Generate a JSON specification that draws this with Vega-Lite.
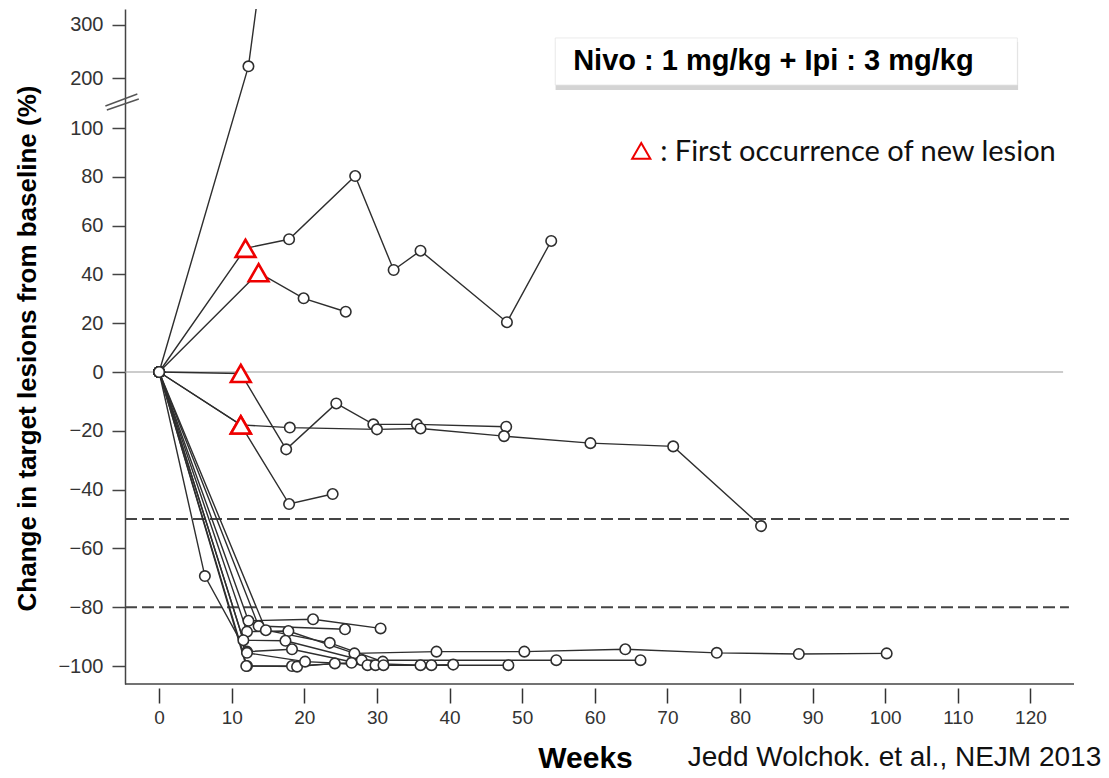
{
  "$schema": "https://vega.github.io/schema/vega-lite/v6.json",
  "width": 949,
  "height": 675,
  "autosize": {"type": "none"},
  "padding": {"left": 125, "top": 9, "right": 35, "bottom": 94},
  "background": "white",
  "config": {"view": {"stroke": null}, "font": "Liberation Sans"},
  "data": {"values": [{"anchor": 1}]},
  "datasets": {
    "series": [
      {"id": "A", "week": 0, "pct": 0, "newLesion": false},
      {"id": "A", "week": 12.3, "pct": 222, "newLesion": false},
      {"id": "A", "week": 13.5, "pct": 345, "newLesion": false},
      {"id": "B", "week": 0, "pct": 0, "newLesion": false},
      {"id": "B", "week": 11.9, "pct": 50.7, "newLesion": true},
      {"id": "B", "week": 17.9, "pct": 54.4, "newLesion": false},
      {"id": "B", "week": 27.0, "pct": 80.3, "newLesion": false},
      {"id": "B", "week": 32.3, "pct": 41.8, "newLesion": false},
      {"id": "B", "week": 36.0, "pct": 49.7, "newLesion": false},
      {"id": "B", "week": 47.9, "pct": 20.4, "newLesion": false},
      {"id": "B", "week": 54.0, "pct": 53.7, "newLesion": false},
      {"id": "C", "week": 0, "pct": 0, "newLesion": false},
      {"id": "C", "week": 13.7, "pct": 40.7, "newLesion": true},
      {"id": "C", "week": 19.9, "pct": 30.2, "newLesion": false},
      {"id": "C", "week": 25.7, "pct": 24.7, "newLesion": false},
      {"id": "D", "week": 0, "pct": 0, "newLesion": false},
      {"id": "D", "week": 11.25, "pct": -0.5, "newLesion": true},
      {"id": "D", "week": 17.5, "pct": -26.3, "newLesion": false},
      {"id": "D", "week": 24.4, "pct": -10.7, "newLesion": false},
      {"id": "D", "week": 29.5, "pct": -17.8, "newLesion": false},
      {"id": "D", "week": 35.5, "pct": -17.8, "newLesion": false},
      {"id": "D", "week": 47.8, "pct": -18.6, "newLesion": false},
      {"id": "E", "week": 0, "pct": 0, "newLesion": false},
      {"id": "E", "week": 11.25, "pct": -18, "newLesion": true},
      {"id": "E", "week": 18.0, "pct": -18.9, "newLesion": false},
      {"id": "E", "week": 30.0, "pct": -19.5, "newLesion": false},
      {"id": "E", "week": 36.0, "pct": -19.2, "newLesion": false},
      {"id": "E", "week": 47.5, "pct": -21.8, "newLesion": false},
      {"id": "E", "week": 59.4, "pct": -24.2, "newLesion": false},
      {"id": "E", "week": 70.8, "pct": -25.3, "newLesion": false},
      {"id": "E", "week": 82.9, "pct": -52.4, "newLesion": false},
      {"id": "F", "week": 0, "pct": 0, "newLesion": false},
      {"id": "F", "week": 11.25, "pct": -18, "newLesion": true},
      {"id": "F", "week": 17.9, "pct": -44.9, "newLesion": false},
      {"id": "F", "week": 23.9, "pct": -41.5, "newLesion": false},
      {"id": "G", "week": 0, "pct": 0, "newLesion": false},
      {"id": "G", "week": 12.3, "pct": -84.6, "newLesion": false},
      {"id": "G", "week": 21.2, "pct": -84.1, "newLesion": false},
      {"id": "G", "week": 30.5, "pct": -87.2, "newLesion": false},
      {"id": "H", "week": 0, "pct": 0, "newLesion": false},
      {"id": "H", "week": 13.7, "pct": -86.4, "newLesion": false},
      {"id": "H", "week": 25.6, "pct": -87.5, "newLesion": false},
      {"id": "I", "week": 0, "pct": 0, "newLesion": false},
      {"id": "I", "week": 14.7, "pct": -87.8, "newLesion": false},
      {"id": "I", "week": 23.5, "pct": -92.1, "newLesion": false},
      {"id": "I", "week": 30.8, "pct": -98.5, "newLesion": false},
      {"id": "J", "week": 0, "pct": 0, "newLesion": false},
      {"id": "J", "week": 12.1, "pct": -88.3, "newLesion": false},
      {"id": "J", "week": 17.8, "pct": -88.1, "newLesion": false},
      {"id": "J", "week": 26.9, "pct": -95.7, "newLesion": false},
      {"id": "J", "week": 38.2, "pct": -95.1, "newLesion": false},
      {"id": "J", "week": 50.3, "pct": -95.1, "newLesion": false},
      {"id": "J", "week": 64.2, "pct": -94.3, "newLesion": false},
      {"id": "J", "week": 76.8, "pct": -95.5, "newLesion": false},
      {"id": "J", "week": 88.1, "pct": -95.9, "newLesion": false},
      {"id": "J", "week": 100.2, "pct": -95.7, "newLesion": false},
      {"id": "K", "week": 0, "pct": 0, "newLesion": false},
      {"id": "K", "week": 11.6, "pct": -91.2, "newLesion": false},
      {"id": "K", "week": 17.4, "pct": -91.4, "newLesion": false},
      {"id": "K", "week": 27.9, "pct": -98.0, "newLesion": false},
      {"id": "K", "week": 54.7, "pct": -98.0, "newLesion": false},
      {"id": "K", "week": 66.3, "pct": -98.0, "newLesion": false},
      {"id": "L", "week": 0, "pct": 0, "newLesion": false},
      {"id": "L", "week": 12.1, "pct": -95.1, "newLesion": false},
      {"id": "L", "week": 18.3, "pct": -94.3, "newLesion": false},
      {"id": "L", "week": 28.7, "pct": -99.7, "newLesion": false},
      {"id": "L", "week": 37.5, "pct": -99.7, "newLesion": false},
      {"id": "L", "week": 48.1, "pct": -99.7, "newLesion": false},
      {"id": "M", "week": 0, "pct": 0, "newLesion": false},
      {"id": "M", "week": 12.1, "pct": -100, "newLesion": false},
      {"id": "M", "week": 18.3, "pct": -100, "newLesion": false},
      {"id": "M", "week": 26.5, "pct": -98.9, "newLesion": false},
      {"id": "M", "week": 36.0, "pct": -99.7, "newLesion": false},
      {"id": "M", "week": 40.5, "pct": -99.5, "newLesion": false},
      {"id": "N", "week": 0, "pct": 0, "newLesion": false},
      {"id": "N", "week": 12.0, "pct": -100, "newLesion": false},
      {"id": "N", "week": 19.0, "pct": -100.2, "newLesion": false},
      {"id": "N", "week": 24.2, "pct": -99.1, "newLesion": false},
      {"id": "N", "week": 29.8, "pct": -99.7, "newLesion": false},
      {"id": "O", "week": 0, "pct": 0, "newLesion": false},
      {"id": "O", "week": 6.3, "pct": -69.4, "newLesion": false},
      {"id": "O", "week": 12.1, "pct": -95.5, "newLesion": false},
      {"id": "O", "week": 20.1, "pct": -98.5, "newLesion": false},
      {"id": "O", "week": 30.9, "pct": -99.7, "newLesion": false}
    ]
  },
  "layer": [
    {
      "mark": {"type": "rule", "color": "#999999", "strokeWidth": 1},
      "encoding": {
        "x": {"datum": -4.7, "type": "quantitative"},
        "x2": {"datum": 124.5},
        "y": {"datum": 0, "type": "quantitative"}
      }
    },
    {
      "data": {"values": [{"level": -50}, {"level": -80}]},
      "mark": {"type": "rule", "color": "#444444", "strokeWidth": 2, "strokeDash": [12, 5]},
      "encoding": {
        "x": {"datum": -4.7, "type": "quantitative"},
        "x2": {"datum": 125.3},
        "y": {"field": "level", "type": "quantitative"}
      }
    },
    {
      "data": {"name": "series"},
      "mark": {"type": "line", "color": "#2e2e2e", "strokeWidth": 1.4, "clip": true},
      "encoding": {
        "x": {
          "field": "week", "type": "quantitative",
          "scale": {"domain": [-4.7, 126], "nice": false, "zero": false},
          "axis": {
            "values": [0, 10, 20, 30, 40, 50, 60, 70, 80, 90, 100, 110, 120],
            "offset": 4, "domain": false, "grid": false,
            "tickSize": 15, "tickWidth": 1.5, "tickColor": "#333333",
            "labelFont": "Liberation Sans", "labelFontSize": 19, "labelPadding": 5, "labelColor": "#333333",
            "title": "Weeks", "titleFont": "Liberation Sans", "titleFontSize": 30, "titleFontWeight": "bold",
            "titleColor": "#000000", "titleX": 460, "titleY": 70, "titleBaseline": "middle", "titleAlign": "center"
          }
        },
        "y": {
          "field": "pct", "type": "quantitative",
          "scale": {"domain": [-106.1, 0, 100, 200, 330], "range": [675, 363, 119, 69, 0], "nice": false, "zero": false},
          "axis": {
            "values": [-100, -80, -60, -40, -20, 0, 20, 40, 60, 80, 100, 200, 300],
            "grid": false, "domainColor": "#444444", "domainWidth": 1.5,
            "tickSize": 13, "tickWidth": 1.5, "tickColor": "#444444",
            "labelFontSize": 20, "labelPadding": 9, "labelColor": "#333333",
            "title": "Change in target lesions from baseline (%)", "titleFontSize": 26, "titleFontWeight": "bold",
            "titleColor": "#000000", "titleX": -98, "titleY": 339, "titleAngle": 270, "titleAlign": "center", "titleBaseline": "middle"
          }
        },
        "detail": {"field": "id"}
      }
    },
    {
      "data": {"name": "series"},
      "transform": [{"filter": "!datum.newLesion"}],
      "mark": {"type": "point", "shape": "circle", "filled": true, "fill": "white", "stroke": "#2e2e2e", "strokeWidth": 1.6, "size": 110, "opacity": 1, "clip": true},
      "encoding": {
        "x": {"field": "week", "type": "quantitative"},
        "y": {"field": "pct", "type": "quantitative"}
      }
    },
    {
      "data": {"name": "series"},
      "transform": [{"filter": "datum.newLesion"}],
      "mark": {"type": "point", "shape": "triangle-up", "filled": true, "fill": "white", "stroke": "#ee0000", "strokeWidth": 2.6, "size": 390, "opacity": 1},
      "encoding": {
        "x": {"field": "week", "type": "quantitative"},
        "y": {"field": "pct", "type": "quantitative"}
      }
    },
    {
      "mark": {"type": "rule", "color": "#444444", "strokeWidth": 1.5},
      "encoding": {"y": {"datum": -106.1, "type": "quantitative"}}
    },
    {
      "mark": {"type": "rule", "color": "#555555", "strokeWidth": 1.4},
      "encoding": {
        "x": {"datum": -7.4, "type": "quantitative"}, "x2": {"datum": -3.0},
        "y": {"datum": 144, "type": "quantitative"}, "y2": {"datum": 168}
      }
    },
    {
      "mark": {"type": "rule", "color": "#555555", "strokeWidth": 1.4},
      "encoding": {
        "x": {"datum": -7.2, "type": "quantitative"}, "x2": {"datum": -2.8},
        "y": {"datum": 136, "type": "quantitative"}, "y2": {"datum": 158}
      }
    },
    {
      "mark": {"type": "rect", "fill": "#a0a0a0", "opacity": 0.45},
      "encoding": {
        "x": {"datum": 54.6, "type": "quantitative"}, "x2": {"datum": 118.3},
        "y": {"datum": 268, "type": "quantitative"}, "y2": {"datum": 176}
      }
    },
    {
      "mark": {"type": "rect", "fill": "white", "stroke": "#e4e4e4", "strokeWidth": 0.8},
      "encoding": {
        "x": {"datum": 54.55, "type": "quantitative"}, "x2": {"datum": 118.2},
        "y": {"datum": 275.4, "type": "quantitative"}, "y2": {"datum": 186}
      }
    },
    {
      "mark": {"type": "text", "text": "Nivo : 1 mg/kg + Ipi : 3 mg/kg", "font": "Liberation Sans", "fontSize": 29, "fontWeight": "bold", "color": "#000000", "align": "center", "baseline": "middle"},
      "encoding": {
        "x": {"datum": 84.6, "type": "quantitative"},
        "y": {"datum": 232, "type": "quantitative"}
      }
    },
    {
      "mark": {"type": "point", "shape": "triangle-up", "filled": true, "fill": "white", "stroke": "#ee0000", "strokeWidth": 2, "size": 330, "opacity": 1},
      "encoding": {
        "x": {"datum": 66.4, "type": "quantitative"},
        "y": {"datum": 90.6, "type": "quantitative"}
      }
    },
    {
      "mark": {"type": "text", "text": ": First occurrence of new lesion", "font": "Lato", "fontSize": 29, "color": "#111111", "align": "left", "baseline": "middle"},
      "encoding": {
        "x": {"datum": 69.0, "type": "quantitative"},
        "y": {"datum": 90.0, "type": "quantitative"}
      }
    },
    {
      "mark": {"type": "text", "text": "Jedd Wolchok. et al., NEJM 2013", "font": "Liberation Sans", "fontSize": 28, "color": "#111111", "align": "right", "baseline": "middle"},
      "encoding": {
        "x": {"datum": 129.75, "type": "quantitative"},
        "y": {"datum": -131.3, "type": "quantitative"}
      }
    }
  ]
}
